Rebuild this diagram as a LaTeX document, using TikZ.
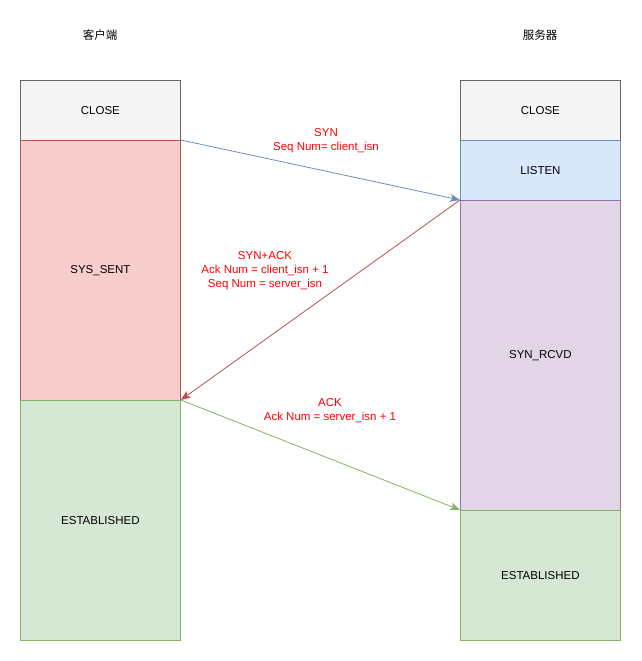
\documentclass[tikz,border=0pt]{standalone}
\usepackage{fontspec}
\setmainfont{Liberation Sans}
\newfontfamily\cjk{Noto Sans CJK SC}
\usetikzlibrary{arrows.meta}
\definecolor{grayF}{HTML}{F5F5F5}\definecolor{grayD}{HTML}{666666}
\definecolor{redF}{HTML}{F8CECC}\definecolor{redD}{HTML}{B85450}
\definecolor{blueF}{HTML}{DAE8FC}\definecolor{blueD}{HTML}{6C8EBF}
\definecolor{purF}{HTML}{E1D5E7}\definecolor{purD}{HTML}{9673A6}
\definecolor{grnF}{HTML}{D5E8D4}\definecolor{grnD}{HTML}{82B366}
\definecolor{lbl}{HTML}{FF0000}
\tikzset{
  state/.style={draw=#1D, fill=#1F, line width=0.8pt, minimum width=160pt, inner sep=0pt, anchor=north west, font=\fontsize{11.5}{14}\selectfont},
  msg/.style={line width=0.8pt, -{Stealth[length=10pt,width=8pt,inset=2.5pt]}},
  lab/.style={text=lbl, align=center, font=\fontsize{11.5}{14}\selectfont, inner sep=0pt},
  ttl/.style={font=\cjk\fontsize{11.5}{14}\selectfont, inner sep=0pt}
}
\begin{document}
\begin{tikzpicture}[x=1pt,y=-1pt]
\useasboundingbox[fill=white] (0,0) rectangle (641,661);
\node[ttl] (tc) at (100,35) {客户端};
\node[ttl] (ts) at (540,35) {服务器};
% client
\node[state=gray, minimum height=60pt] (cclose) at (20,80) {CLOSE};
\node[state=red, minimum height=260pt] (csent) at (20,140) {SYS\_SENT};
\node[state=grn, minimum height=240pt] (cest) at (20,400) {ESTABLISHED};
% server
\node[state=gray, minimum height=60pt] (sclose) at (460,80) {CLOSE};
\node[state=blue, minimum height=60pt] (slisten) at (460,140) {LISTEN};
\node[state=pur, minimum height=310pt] (srcvd) at (460,200) {SYN\_RCVD};
\node[state=grn, minimum height=130pt] (sest) at (460,510) {ESTABLISHED};
% messages
\draw[msg, blueD] (csent.north east) -- (srcvd.north west);
\draw[msg, redD] (srcvd.north west) -- (cest.north east);
\draw[msg, grnD] (cest.north east) -- (sest.north west);
\node[lab] (l1) at (326,141) {SYN\\Seq Num= client\_isn};
\node[lab] (l2) at (265,271) {SYN+ACK\\Ack Num = client\_isn + 1\\Seq Num = server\_isn};
\node[lab] (l3) at (330,411) {ACK\\Ack Num = server\_isn + 1};
\end{tikzpicture}
\end{document}
